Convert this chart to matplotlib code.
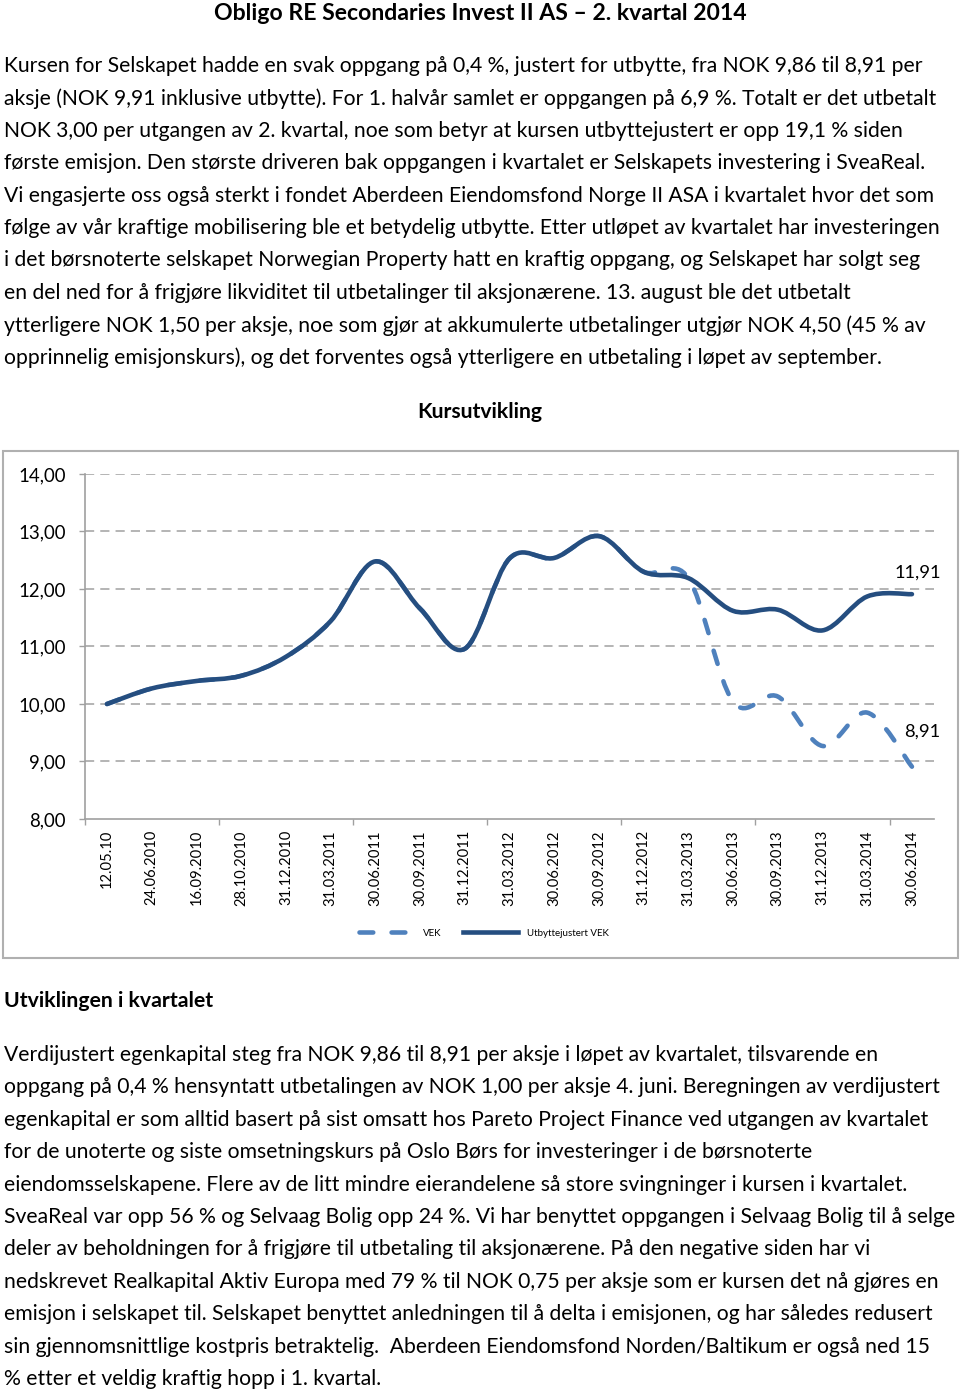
import numpy as np
import matplotlib
matplotlib.use("Agg")
import matplotlib.pyplot as plt
from matplotlib.path import Path
from matplotlib.patches import PathPatch, Rectangle
from matplotlib.lines import Line2D

plt.rcParams['font.family'] = ['Lato', 'DejaVu Sans']

W, H = 960, 1392

# --- data ---
datoer = ["12.05.10", "24.06.2010", "16.09.2010", "28.10.2010", "31.12.2010",
          "31.03.2011", "30.06.2011", "30.09.2011", "31.12.2011", "31.03.2012",
          "30.06.2012", "30.09.2012", "31.12.2012", "31.03.2013", "30.06.2013",
          "30.09.2013", "31.12.2013", "31.03.2014", "30.06.2014"]
utbyttejustert = [10.00, 10.27, 10.40, 10.49, 10.82, 11.44, 12.48, 11.66, 10.96, 12.53,
                  12.54, 12.92, 12.30, 12.19, 11.62, 11.64, 11.28, 11.87, 11.91]
vek = [10.00, 10.27, 10.40, 10.49, 10.82, 11.44, 12.48, 11.66, 10.96, 12.53,
       12.54, 12.92, 12.30, 12.19, 10.04, 10.13, 9.27, 9.85, 8.91]
y_ticks = [8, 9, 10, 11, 12, 13, 14]

tittel = "Obligo RE Secondaries Invest II AS \u2013 2. kvartal 2014"
avsnitt1 = [
    "Kursen for Selskapet hadde en svak oppgang på 0,4 %, justert for utbytte, fra NOK 9,86 til 8,91 per",
    "aksje (NOK 9,91 inklusive utbytte). For 1. halvår samlet er oppgangen på 6,9 %. Totalt er det utbetalt",
    "NOK 3,00 per utgangen av 2. kvartal, noe som betyr at kursen utbyttejustert er opp 19,1 % siden",
    "første emisjon. Den største driveren bak oppgangen i kvartalet er Selskapets investering i SveaReal.",
    "Vi engasjerte oss også sterkt i fondet Aberdeen Eiendomsfond Norge II ASA i kvartalet hvor det som",
    "følge av vår kraftige mobilisering ble et betydelig utbytte. Etter utløpet av kvartalet har investeringen",
    "i det børsnoterte selskapet Norwegian Property hatt en kraftig oppgang, og Selskapet har solgt seg",
    "en del ned for å frigjøre likviditet til utbetalinger til aksjonærene. 13. august ble det utbetalt",
    "ytterligere NOK 1,50 per aksje, noe som gjør at akkumulerte utbetalinger utgjør NOK 4,50 (45 % av",
    "opprinnelig emisjonskurs), og det forventes også ytterligere en utbetaling i løpet av september.",
]
avsnitt2 = [
    "Verdijustert egenkapital steg fra NOK 9,86 til 8,91 per aksje i løpet av kvartalet, tilsvarende en",
    "oppgang på 0,4 % hensyntatt utbetalingen av NOK 1,00 per aksje 4. juni. Beregningen av verdijustert",
    "egenkapital er som alltid basert på sist omsatt hos Pareto Project Finance ved utgangen av kvartalet",
    "for de unoterte og siste omsetningskurs på Oslo Børs for investeringer i de børsnoterte",
    "eiendomsselskapene. Flere av de litt mindre eierandelene så store svingninger i kursen i kvartalet.",
    "SveaReal var opp 56 % og Selvaag Bolig opp 24 %. Vi har benyttet oppgangen i Selvaag Bolig til å selge",
    "deler av beholdningen for å frigjøre til utbetaling til aksjonærene. På den negative siden har vi",
    "nedskrevet Realkapital Aktiv Europa med 79 % til NOK 0,75 per aksje som er kursen det nå gjøres en",
    "emisjon i selskapet til. Selskapet benyttet anledningen til å delta i emisjonen, og har således redusert",
    "sin gjennomsnittlige kostpris betraktelig.  Aberdeen Eiendomsfond Norden/Baltikum er også ned 15",
    "% etter et veldig kraftig hopp i 1. kvartal.",
]

MORK = "#254E80"
LYS = "#4F81BD"
GRAA = "#A0A0A0"
BRODTEKST = 15.25
STIPLET = (0, (3.0, 4.0))


def fy(py):
    # pixel-y fra toppen -> figurbrøk
    return 1 - py / H


def glatt_sti(xs, ys):
    # Excel-lignende glatt linje: kubiske Bezier-segmenter gjennom punktene
    p = np.column_stack([xs, ys]).astype(float)
    ext = np.vstack([p[0], p, p[-1]])
    verts = [tuple(p[0])]
    codes = [Path.MOVETO]
    for i in range(len(p) - 1):
        p0, p1, p2, p3 = ext[i], ext[i + 1], ext[i + 2], ext[i + 3]
        c1 = p1 + (p2 - p0) / 6.0
        c2 = p2 - (p3 - p1) / 6.0
        verts += [tuple(c1), tuple(c2), tuple(p2)]
        codes += [Path.CURVE4] * 3
    return Path(verts, codes)


fig = plt.figure(figsize=(W / 100, H / 100), dpi=100)

# tekst over diagrammet
fig.text(480 / W, fy(13), tittel, ha='center', va='center', fontsize=16.6, fontweight='bold')
linje_y1 = [66, 99, 131, 163, 196, 228, 260, 293, 326, 358]
for tekst, py in zip(avsnitt1, linje_y1):
    fig.text(4 / W, fy(py), tekst, ha='left', va='center', fontsize=BRODTEKST)

fig.text(480 / W, fy(412), "Kursutvikling", ha='center', va='center', fontsize=15.2, fontweight='bold')

# ramme rundt diagrammet
fig.patches.append(Rectangle((3 / W, fy(958)), 955 / W, 507 / H, transform=fig.transFigure,
                             fill=False, edgecolor='#B0B0B0', lw=1.5))

ax = fig.add_axes([84.6 / W, fy(819), (934.3 - 84.6) / W, (819 - 474) / H])
x = np.arange(len(datoer))
ax.set_xlim(-0.5, len(datoer) - 0.5)
ax.set_ylim(8, 14)

for s in ['top', 'right']:
    ax.spines[s].set_visible(False)
for s in ['left', 'bottom']:
    ax.spines[s].set_color(GRAA)
    ax.spines[s].set_linewidth(1.2)

ax.set_yticks(y_ticks)
ax.set_yticklabels([f"{v:.2f}".replace('.', ',') for v in y_ticks], fontsize=13.4)
ax.tick_params(axis='y', length=4.5, color=GRAA, width=1, pad=9)
for v in y_ticks[1:]:
    ax.axhline(v, color=GRAA, lw=1.1, linestyle=(0, (6, 4)), zorder=1)

ax.set_xticks(x)
ax.set_xticklabels(datoer, rotation=90, fontsize=10.6, va='top', ha='center')
ax.tick_params(axis='x', which='major', length=0, pad=8)
ax.set_xticks(np.arange(-0.5, len(datoer), 3), minor=True)
ax.tick_params(axis='x', which='minor', length=4, color=GRAA, width=1)

ax.add_patch(PathPatch(glatt_sti(x, vek), fill=False, edgecolor=LYS, lw=3.3,
                       linestyle=STIPLET, capstyle='round', zorder=3))
ax.add_patch(PathPatch(glatt_sti(x, utbyttejustert), fill=False, edgecolor=MORK, lw=3.3,
                       capstyle='round', joinstyle='round', zorder=4))

ax.annotate("11,91", (x[-1], utbyttejustert[-1]), xytext=(6, 14), textcoords='offset pixels',
            ha='center', va='bottom', fontsize=13.2)
ax.annotate("8,91", (x[-1], vek[-1]), xytext=(10, 27), textcoords='offset pixels',
            ha='center', va='bottom', fontsize=13.2)

handles = [Line2D([], [], color=LYS, lw=3.3, linestyle=STIPLET, dash_capstyle='round'),
           Line2D([], [], color=MORK, lw=3.3)]
fig.legend(handles, ["VEK", "Utbyttejustert VEK"], loc='center', bbox_to_anchor=(484 / W, fy(933)),
           ncol=2, frameon=False, fontsize=7.0, handlelength=5.6, handletextpad=0.9,
           columnspacing=2.3)

# tekst under diagrammet
fig.text(4 / W, fy(1001), "Utviklingen i kvartalet", ha='left', va='center', fontsize=15.3, fontweight='bold')
linje_y2 = [1055, 1087, 1120, 1152, 1185, 1217, 1249, 1282, 1314, 1347, 1379]
for tekst, py in zip(avsnitt2, linje_y2):
    fig.text(4 / W, fy(py), tekst, ha='left', va='center', fontsize=BRODTEKST)

fig.savefig("out.png", dpi=100)
